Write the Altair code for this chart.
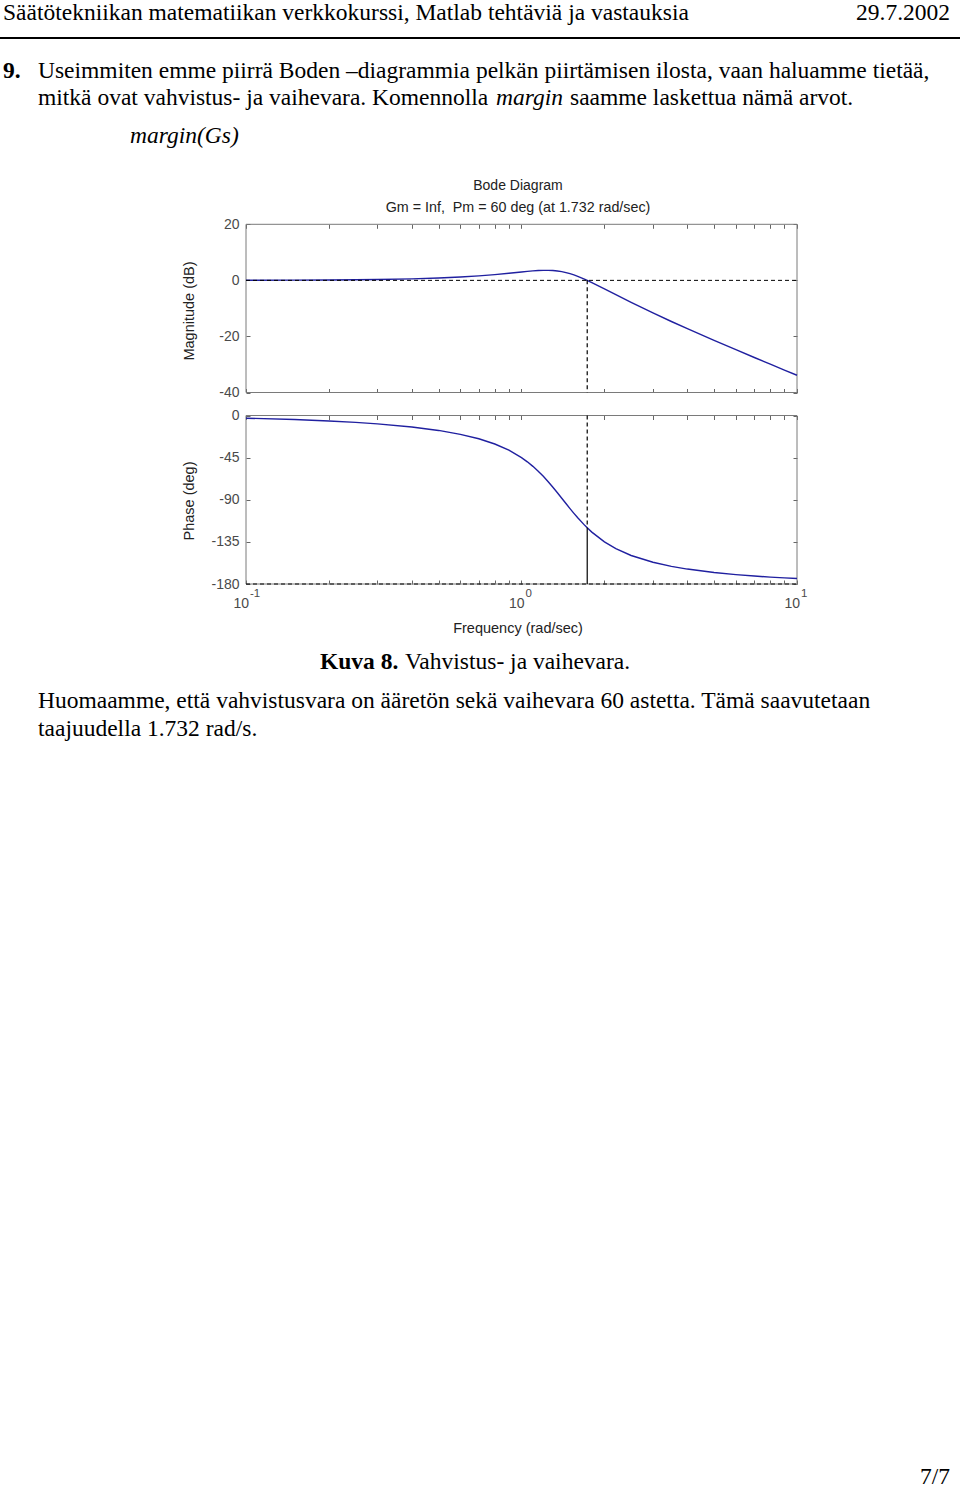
import altair as alt
import pandas as pd

# ---------------- data ----------------
freq = [0.1, 0.15, 0.2, 0.25, 0.3, 0.4, 0.5, 0.6, 0.7, 0.8, 0.9, 1.0, 1.05, 1.1, 1.15,
        1.2, 1.25, 1.3, 1.35, 1.4, 1.45, 1.5, 1.55, 1.6, 1.7, 1.732, 1.8, 2.0, 2.2, 2.5,
        3.0, 3.5, 4.0, 5.0, 6.0, 7.0, 8.0, 9.0, 10.0]
mag_db = [0.03, 0.07, 0.13, 0.20, 0.29, 0.52, 0.82, 1.18, 1.60, 2.06, 2.55, 3.01, 3.22, 3.39,
          3.51, 3.58, 3.58, 3.50, 3.34, 3.10, 2.77, 2.38, 1.93, 1.44, 0.36, 0.0, -0.77, -3.01,
          -5.09, -7.84, -11.61, -14.67, -17.24, -21.41, -24.74, -27.52, -29.90, -31.99, -33.85]
phase_deg = [-2.88, -4.34, -5.83, -7.35, -8.93, -12.26, -15.95, -20.10, -24.87, -30.47, -37.10,
             -45.0, -49.48, -54.31, -59.50, -64.98, -70.71, -76.59, -82.51, -88.36, -94.04,
             -99.46, -104.56, -109.29, -117.63, -120.0, -124.56, -135.0, -142.23, -149.53,
             -156.80, -161.15, -164.05, -167.74, -169.99, -171.53, -172.65, -173.50, -174.17]

x_ticks = [0.1, 0.2, 0.3, 0.4, 0.5, 0.6, 0.7, 0.8, 0.9, 1, 2, 3, 4, 5, 6, 7, 8, 9, 10]
x_decades = [0.1, 1, 10]
x_exponents = ["-1", "0", "1"]
mag_ticks = [-40, -20, 0, 20]
phase_ticks = [-180, -135, -90, -45, 0]
x_domain = [0.1, 10]
mag_domain = [-40, 20]
phase_domain = [-180, 0]
wc = 1.732          # crossover frequency
pm_phase = -120     # phase at crossover

header_left = "Säätötekniikan matematiikan verkkokurssi, Matlab tehtäviä ja vastauksia"
header_right = "29.7.2002"
para_num = "9."
para_l1 = "Useimmiten emme piirrä Boden –diagrammia pelkän piirtämisen ilosta, vaan haluamme tietää,"
para_l2a = "mitkä ovat vahvistus- ja vaihevara. Komennolla"
para_l2b = "margin"
para_l2c = "saamme laskettua nämä arvot."
cmd = "margin(Gs)"
plot_title = "Bode Diagram"
plot_subtitle = "Gm = Inf,\u00a0 Pm = 60 deg (at 1.732 rad/sec)"
mag_label = "Magnitude (dB)"
phase_label = "Phase (deg)"
freq_label = "Frequency (rad/sec)"
cap_bold = "Kuva 8."
cap_text = "Vahvistus- ja vaihevara."
after_l1 = "Huomaamme, että vahvistusvara on ääretön sekä vaihevara 60 astetta. Tämä saavutetaan"
after_l2 = "taajuudella 1.732 rad/s."
page_no = "7/7"

# ---------------- layout constants ----------------
W, H = 960, 1489
X0, X1 = 246, 797
MAG_TOP, MAG_BOT = 224.3, 392.5
PH_TOP, PH_BOT = 415.5, 584.0
SERIF = "Liberation Serif"
SANS = "Liberation Sans"
FS = 23.5
BLUE = "#2020a0"
FRAME = "#7a7a7a"
TICKC = "#666666"
LABC = "#4a4a4a"
TITC = "#222222"

df = pd.DataFrame({"w": freq, "mag": mag_db, "ph": phase_deg})

xs = alt.Scale(type="log", domain=x_domain, range=[X0, X1])
ys_mag = alt.Scale(domain=mag_domain, range=[MAG_BOT, MAG_TOP], nice=False, zero=False)
ys_ph = alt.Scale(domain=phase_domain, range=[PH_BOT, PH_TOP], nice=False, zero=False)


def tick_axis(orient, pos, values):
    # inward ticks: an axis of the opposite orientation placed at the frame edge
    if orient == "left":
        off = -pos
    elif orient == "right":
        off = pos - W
    elif orient == "top":
        off = -pos
    else:
        off = pos - H
    return alt.Axis(orient=orient, offset=off, values=values, labels=False, domain=False,
                    ticks=True, tickSize=4, tickColor=TICKC, tickWidth=1, grid=False,
                    title=None)


def label_axis(values):
    return alt.Axis(orient="left", offset=-X0, values=values, labels=True, domain=False,
                    ticks=False, grid=False, title=None, labelFont=SANS, labelFontSize=14,
                    labelColor=LABC, labelPadding=7, labelExpr="toString(datum.value)")


def panel(col, ys, domain, ticks, top, bot):
    line = alt.Chart(df).mark_line(color=BLUE, strokeWidth=1.4, clip=False).encode(
        x=alt.X("w:Q", scale=xs, axis=tick_axis("top", bot, x_ticks)),
        y=alt.Y(f"{col}:Q", scale=ys, axis=label_axis(ticks)),
    )
    frame = alt.Chart(df.head(1)).mark_rect(fillOpacity=0, stroke=FRAME, strokeWidth=1).encode(
        x=alt.X(datum=x_domain[0], scale=xs, axis=tick_axis("bottom", top, x_ticks)),
        x2=alt.X2(datum=x_domain[1]),
        y=alt.Y(datum=domain[0], scale=ys, axis=tick_axis("right", X0, ticks)),
        y2=alt.Y2(datum=domain[1]),
    )
    right_ticks = alt.Chart(df.head(1)).mark_point(opacity=0).encode(
        x=alt.X(datum=x_domain[0], scale=xs, axis=None),
        y=alt.Y(datum=domain[0], scale=ys, axis=tick_axis("left", X1, ticks)),
    )
    return [frame, right_ticks, line]


def hline(yval, ys, dash):
    return alt.Chart(df.head(1)).mark_rule(color="black", strokeWidth=1, strokeDash=dash).encode(
        x=alt.X(datum=x_domain[0], scale=xs, axis=None),
        x2=alt.X2(datum=x_domain[1]),
        y=alt.Y(datum=yval, scale=ys, axis=None),
    )


def vline(y1, y2, ys, dash):
    return alt.Chart(df.head(1)).mark_rule(color="black", strokeWidth=1.2, strokeDash=dash).encode(
        x=alt.X(datum=wc, scale=xs, axis=None),
        y=alt.Y(datum=y1, scale=ys, axis=None),
        y2=alt.Y2(datum=y2),
    )


def txt(s, x, y, size=FS, font=SERIF, weight="normal", style="normal", align="left",
        angle=0, color="black", baseline="alphabetic"):
    kw = dict(font=font, fontSize=size, fontWeight=weight, fontStyle=style, align=align,
              baseline=baseline, color=color)
    if angle:
        kw["angle"] = angle
    return alt.Chart(pd.DataFrame({"t": [s]})).mark_text(**kw).encode(
        text="t:N", x=alt.value(x), y=alt.value(y))


DASH = [4, 3]
layers = []
layers += panel("mag", ys_mag, mag_domain, mag_ticks, MAG_TOP, MAG_BOT)
layers += [hline(0, ys_mag, DASH), vline(0, mag_domain[0], ys_mag, DASH)]
layers += panel("ph", ys_ph, phase_domain, phase_ticks, PH_TOP, PH_BOT)
layers += [hline(phase_domain[0], ys_ph, DASH),
           vline(phase_domain[1], pm_phase, ys_ph, DASH),
           vline(pm_phase, phase_domain[0], ys_ph, [1, 0])]

dec_df = pd.DataFrame({"w": x_decades, "e": x_exponents, "b": ["10"] * 3})
layers.append(alt.Chart(dec_df).mark_text(font=SANS, fontSize=14, color=LABC, align="right",
                                          baseline="middle", dx=3).encode(
    x=alt.X("w:Q", scale=xs, axis=None), y=alt.value(603.5), text="b:N"))
layers.append(alt.Chart(dec_df).mark_text(font=SANS, fontSize=11.5, color=LABC, align="left",
                                          baseline="middle", dx=4).encode(
    x=alt.X("w:Q", scale=xs, axis=None), y=alt.value(594), text="e:N"))

# plot texts
layers += [
    txt(plot_title, 518, 190, size=14, font=SANS, align="center", color=TITC),
    txt(plot_subtitle, 518, 212, size=14.3, font=SANS, align="center", color=TITC),
    txt(freq_label, 518, 633, size=14.5, font=SANS, align="center", color=TITC),
    txt(mag_label, 190, 311, size=14.5, font=SANS, align="center", angle=270,
        color=TITC, baseline="middle"),
    txt(phase_label, 190, 501, size=14.5, font=SANS, align="center", angle=270,
        color=TITC, baseline="middle"),
]

# page texts
layers += [
    txt(header_left, 3, 20),
    txt(header_right, 950, 20, align="right"),
    txt(para_num, 3, 78, weight="bold"),
    txt(para_l1, 38, 78),
    txt(para_l2a, 38, 105),
    txt(para_l2b, 496, 105, style="italic"),
    txt(para_l2c, 570, 105),
    txt(cmd, 130, 143, style="italic"),
    txt(cap_bold, 320, 669, weight="bold"),
    txt(cap_text, 405, 669),
    txt(after_l1, 38, 708),
    txt(after_l2, 38, 736),
    txt(page_no, 950, 1484, align="right"),
]

rule = alt.Chart(pd.DataFrame({"a": [0]})).mark_rule(color="black", strokeWidth=2).encode(
    x=alt.value(0), x2=alt.value(W), y=alt.value(38))
layers.append(rule)

chart = alt.layer(*layers).resolve_scale(x="independent", y="independent").properties(
    width=W, height=H, padding=0, autosize=alt.AutoSizeParams(type="none"),
    background="white",
).configure_view(stroke=None)

chart.save("out.html", embed_options={"renderer": "svg", "actions": False})
